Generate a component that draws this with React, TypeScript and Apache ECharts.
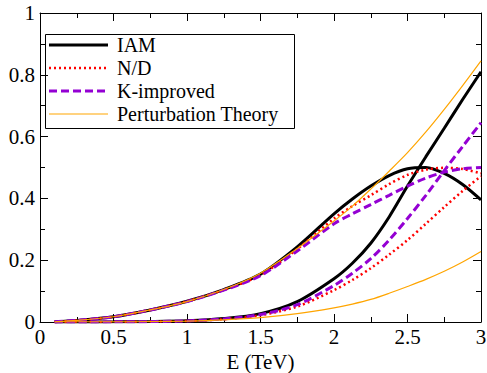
import React, { useEffect, useRef } from "react";
import * as echarts from "echarts";

const energy = [0.1, 0.25, 0.5, 0.75, 1, 1.25, 1.5, 1.75, 2, 2.125, 2.25, 2.375, 2.5, 2.625, 2.75, 2.875, 3];

// first (lower-energy) resonance curves
const iamA = [0.0007, 0.005, 0.017, 0.039, 0.067, 0.105, 0.155, 0.243, 0.35, 0.398, 0.44, 0.474, 0.496, 0.5, 0.481, 0.445, 0.395];
const ndA = [0.0007, 0.005, 0.017, 0.039, 0.067, 0.104, 0.152, 0.236, 0.335, 0.375, 0.41, 0.446, 0.476, 0.493, 0.499, 0.495, 0.481];
const kA = [0.0007, 0.005, 0.017, 0.039, 0.066, 0.103, 0.15, 0.23, 0.318, 0.35, 0.38, 0.41, 0.44, 0.466, 0.485, 0.496, 0.5];
const ptA = [0.0007, 0.005, 0.017, 0.039, 0.066, 0.105, 0.158, 0.238, 0.327, 0.375, 0.43, 0.488, 0.548, 0.615, 0.688, 0.765, 0.845];

// second (higher-energy) curves
const iamB = [0, 0.0001, 0.0005, 0.0015, 0.004, 0.011, 0.027, 0.066, 0.14, 0.19, 0.255, 0.34, 0.44, 0.535, 0.627, 0.72, 0.81];
const ndB = [0, 0.0001, 0.0004, 0.0013, 0.0033, 0.009, 0.022, 0.05, 0.103, 0.136, 0.174, 0.218, 0.265, 0.318, 0.372, 0.424, 0.472];
const kB = [0, 0.0001, 0.0004, 0.0013, 0.0035, 0.01, 0.024, 0.056, 0.118, 0.158, 0.205, 0.265, 0.335, 0.41, 0.49, 0.568, 0.645];
const ptB = [0, 0.0001, 0.0004, 0.0012, 0.003, 0.007, 0.014, 0.027, 0.046, 0.058, 0.073, 0.093, 0.115, 0.138, 0.164, 0.194, 0.228];

const legendNames = ["IAM", "N/D", "K-improved", "Perturbation Theory"];

const xTicks = { min: 0, max: 3, interval: 0.5 };
const yTicks = { min: 0, max: 1, interval: 0.2 };

const FONT = "Liberation Serif";

const pairs = (ys: number[]) => energy.map((e, i) => [e, ys[i]]);

const styles: Record<string, any> = {
  IAM: { color: "#000000", width: 3, type: "solid" },
  "N/D": { color: "#ff0000", width: 2.5, type: [2, 3] },
  "K-improved": { color: "#9400d3", width: 3, type: [8, 4] },
  "Perturbation Theory": { color: "#ffa500", width: 1.2, type: "solid" },
};

export default function App() {
  const ref = useRef<HTMLDivElement>(null);
  useEffect(() => {
    if (!ref.current) return;
    const chart = echarts.init(ref.current, null, { renderer: "svg", width: 487, height: 373 });
    const mk = (name: string, ys: number[]) => ({
      name,
      type: "line",
      data: pairs(ys),
      smooth: 0.3,
      symbol: "none",
      showSymbol: false,
      xAxisIndex: 0,
      yAxisIndex: 0,
      itemStyle: { color: styles[name].color },
      lineStyle: { ...styles[name] },
      z: 2,
    });
    const axisCommon = {
      axisLine: { show: true, onZero: false, lineStyle: { color: "#000", width: 1 } },
      axisTick: { show: true, inside: true, length: 8, lineStyle: { color: "#000", width: 1 } },
      minorTick: { show: true, splitNumber: 2, length: 5, lineStyle: { color: "#000", width: 1 } },
      splitLine: { show: false },
      minorSplitLine: { show: false },
    };
    const rowY = [45, 68, 91, 114];
    const legendChildren: any[] = [
      {
        type: "rect",
        shape: { x: 45.5, y: 34.5, width: 249, height: 94 },
        style: { fill: "#fff", stroke: "#000", lineWidth: 1 },
      },
    ];
    legendNames.forEach((n, i) => {
      const s = styles[n];
      legendChildren.push({
        type: "line",
        shape: { x1: 49, y1: rowY[i], x2: 108, y2: rowY[i] },
        style: {
          stroke: s.color,
          lineWidth: s.width,
          lineDash: Array.isArray(s.type) ? s.type : null,
        },
      });
      legendChildren.push({
        type: "text",
        x: 117,
        y: rowY[i],
        style: {
          text: n,
          fill: "#000",
          fontFamily: FONT,
          fontSize: 20,
          lineHeight: 18,
          verticalAlign: "middle",
          align: "left",
        },
      });
    });
    chart.setOption({
      animation: false,
      backgroundColor: "#ffffff",
      grid: { left: 40, right: 6, top: 13, bottom: 51, containLabel: false, outerBoundsMode: "none" },
      graphic: [{ type: "group", z: 100, children: legendChildren }],
      xAxis: [
        {
          type: "value",
          ...xTicks,
          position: "bottom",
          name: "E (TeV)",
          nameLocation: "middle",
          nameGap: 24,
          nameTextStyle: { fontFamily: FONT, fontSize: 21, color: "#000" },
          axisLabel: { fontFamily: FONT, fontSize: 21, color: "#000", margin: 4 },
          ...axisCommon,
        },
        {
          type: "value",
          ...xTicks,
          position: "top",
          axisLabel: { show: false },
          ...axisCommon,
        },
      ],
      yAxis: [
        {
          type: "value",
          ...yTicks,
          position: "left",
          axisLabel: { fontFamily: FONT, fontSize: 21, color: "#000", margin: 5 },
          ...axisCommon,
        },
        {
          type: "value",
          ...yTicks,
          position: "right",
          axisLabel: { show: false },
          ...axisCommon,
        },
      ],
      series: [
        mk("IAM", iamA),
        mk("IAM", iamB),
        mk("N/D", ndA),
        mk("N/D", ndB),
        mk("K-improved", kA),
        mk("K-improved", kB),
        mk("Perturbation Theory", ptA),
        mk("Perturbation Theory", ptB),
      ],
    });
    return () => chart.dispose();
  }, []);
  return (
    <div
      ref={ref}
      style={{ position: "fixed", left: 0, top: 0, width: 487, height: 373, background: "#fff" }}
    />
  );
}
